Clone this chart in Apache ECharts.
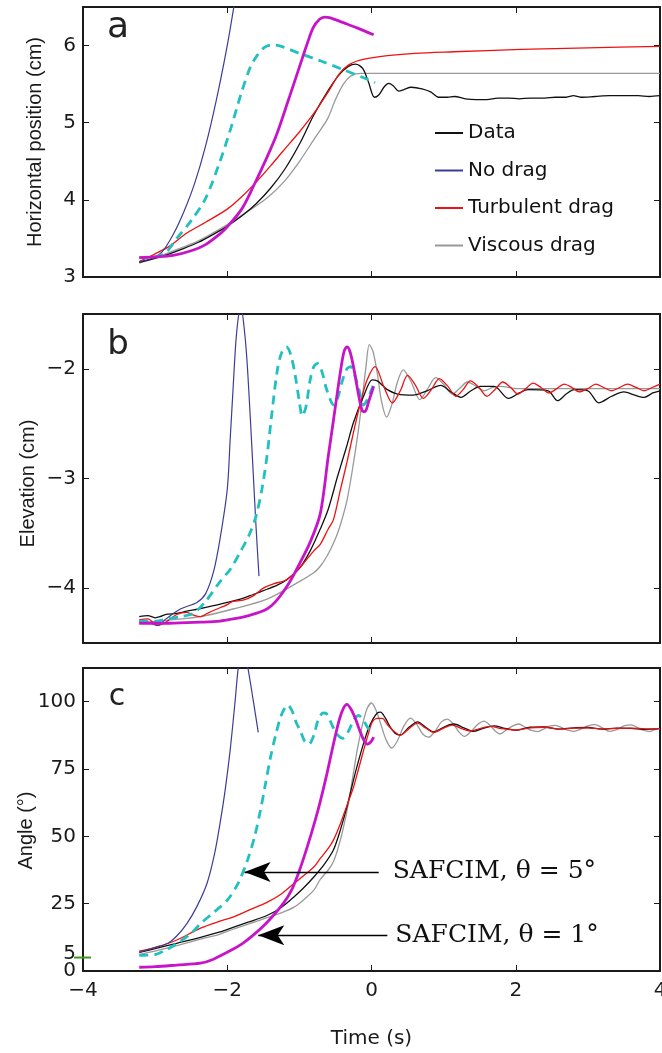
<!DOCTYPE html>
<html>
<head>
<meta charset="utf-8">
<script src="https://cdn.jsdelivr.net/npm/echarts@6/dist/echarts.min.js"></script>
<style>
html,body{margin:0;padding:0;background:#fff;}
#chart{width:662px;height:1053px;}
</style>
</head>
<body>
<div id="chart"></div>
<script>
// ---------- tick labels / axis settings ----------
const xTicks = [-4, -2, 0, 2, 4];
const yTicksA = [3, 4, 5, 6];
const yTicksB = [-4, -3, -2];
const yLabelsC = [0, 25, 50, 75, 100];
const yTickMarksC = [25, 50, 75, 100];
const markerAngle = [5];   // extra labelled reference value on the angle axis
const legendNames = ['Data', 'No drag', 'Turbulent drag', 'Viscous drag'];

// ---------- Panel a: horizontal position (cm) ----------
const aData = [[-3.22,3.19],[-3.0,3.24],[-2.8,3.30],[-2.6,3.37],[-2.4,3.45],[-2.2,3.55],[-2.0,3.66],[-1.8,3.79],[-1.6,3.95],[-1.4,4.15],[-1.2,4.40],[-1.0,4.72],[-0.8,5.10],[-0.6,5.42],[-0.45,5.62],[-0.32,5.73],[-0.22,5.76],[-0.12,5.70],[-0.04,5.52],[0.04,5.33],[0.1,5.36],[0.18,5.47],[0.24,5.51],[0.3,5.48],[0.38,5.41],[0.45,5.43],[0.55,5.46],[0.7,5.44],[0.82,5.40],[0.93,5.33],[1.05,5.33],[1.15,5.34],[1.3,5.31],[1.45,5.30],[1.6,5.30],[1.75,5.32],[1.9,5.32],[2.05,5.31],[2.2,5.32],[2.4,5.32],[2.55,5.33],[2.7,5.33],[2.8,5.35],[2.9,5.33],[3.1,5.34],[3.3,5.35],[3.5,5.35],[3.7,5.35],[3.85,5.34],[4.0,5.35]];
const aNoDrag = [[-3.22,3.20],[-3.05,3.24],[-2.9,3.33],[-2.75,3.55],[-2.6,3.85],[-2.45,4.22],[-2.3,4.70],[-2.15,5.30],[-2.0,6.0],[-1.9,6.55],[-1.85,6.85]];
const aTurb = [[-3.22,3.20],[-3.0,3.30],[-2.8,3.40],[-2.56,3.57],[-2.3,3.71],[-2.0,3.88],[-1.8,4.04],[-1.58,4.25],[-1.4,4.44],[-1.22,4.64],[-1.0,4.88],[-0.8,5.12],[-0.6,5.40],[-0.45,5.63],[-0.33,5.74],[-0.2,5.80],[0.0,5.84],[0.22,5.87],[0.6,5.90],[1.14,5.92],[2.07,5.95],[3.0,5.97],[4.0,5.99]];
const aVisc = [[-3.22,3.18],[-3.0,3.25],[-2.8,3.32],[-2.4,3.47],[-2.0,3.68],[-1.7,3.86],[-1.44,4.03],[-1.2,4.25],[-0.99,4.51],[-0.8,4.78],[-0.61,5.05],[-0.5,5.30],[-0.39,5.50],[-0.28,5.61],[-0.15,5.64],[0.0,5.64],[4.0,5.64]];
const aSaf5 = [[-3.22,3.25],[-3.0,3.26],[-2.85,3.32],[-2.7,3.50],[-2.5,3.73],[-2.3,4.02],[-2.1,4.50],[-1.95,4.93],[-1.8,5.40],[-1.68,5.72],[-1.58,5.88],[-1.48,5.98],[-1.38,6.01],[-1.25,5.99],[-1.0,5.90],[-0.7,5.80],[-0.4,5.69],[-0.1,5.58],[0.05,5.52]];
const aSaf1 = [[-3.22,3.25],[-3.0,3.26],[-2.75,3.28],[-2.5,3.34],[-2.3,3.42],[-2.1,3.56],[-2.0,3.65],[-1.8,3.88],[-1.64,4.17],[-1.45,4.55],[-1.31,4.86],[-1.15,5.30],[-1.0,5.72],[-0.9,6.0],[-0.81,6.23],[-0.72,6.34],[-0.65,6.37],[-0.57,6.36],[-0.4,6.30],[-0.2,6.23],[0.03,6.14]];

// ---------- Panel b: elevation (cm) ----------
const bData = [[-3.22,-4.26],[-3.1,-4.25],[-3.0,-4.27],[-2.93,-4.26],[-2.85,-4.24],[-2.7,-4.23],[-2.56,-4.21],[-2.4,-4.19],[-2.19,-4.16],[-2.0,-4.13],[-1.82,-4.10],[-1.65,-4.06],[-1.45,-4.01],[-1.3,-3.97],[-1.17,-3.92],[-1.0,-3.82],[-0.85,-3.66],[-0.71,-3.46],[-0.6,-3.28],[-0.47,-2.98],[-0.35,-2.72],[-0.25,-2.49],[-0.11,-2.25],[0.01,-2.10],[0.08,-2.11],[0.15,-2.15],[0.22,-2.19],[0.36,-2.23],[0.58,-2.24],[0.77,-2.20],[0.96,-2.15],[1.1,-2.21],[1.24,-2.26],[1.38,-2.20],[1.51,-2.16],[1.7,-2.16],[1.9,-2.27],[2.05,-2.22],[2.17,-2.19],[2.45,-2.20],[2.58,-2.29],[2.7,-2.23],[2.81,-2.19],[3.0,-2.20],[3.15,-2.31],[3.33,-2.25],[3.5,-2.21],[3.65,-2.24],[3.78,-2.26],[3.9,-2.22],[4.0,-2.20]];
const bNoDrag = [[-3.22,-4.30],[-3.1,-4.31],[-2.97,-4.34],[-2.85,-4.28],[-2.65,-4.19],[-2.42,-4.13],[-2.3,-4.05],[-2.19,-3.85],[-2.1,-3.55],[-2.0,-3.10],[-1.96,-2.65],[-1.92,-2.19],[-1.88,-1.75],[-1.84,-1.50],[-1.81,-1.44],[-1.77,-1.60],[-1.73,-1.89],[-1.68,-2.45],[-1.64,-2.95],[-1.6,-3.45],[-1.56,-3.89]];
const bTurb = [[-3.22,-4.29],[-3.1,-4.28],[-2.97,-4.34],[-2.85,-4.31],[-2.7,-4.24],[-2.56,-4.22],[-2.45,-4.25],[-2.37,-4.26],[-2.25,-4.22],[-2.14,-4.19],[-2.0,-4.15],[-1.92,-4.12],[-1.78,-4.11],[-1.64,-4.07],[-1.5,-4.0],[-1.36,-3.96],[-1.2,-3.93],[-1.08,-3.87],[-0.95,-3.78],[-0.8,-3.66],[-0.71,-3.60],[-0.6,-3.46],[-0.53,-3.38],[-0.43,-3.10],[-0.34,-2.85],[-0.25,-2.58],[-0.15,-2.30],[-0.06,-2.10],[0.05,-1.98],[0.17,-2.16],[0.29,-2.31],[0.4,-2.20],[0.5,-2.06],[0.61,-2.15],[0.72,-2.27],[0.83,-2.19],[0.94,-2.09],[1.06,-2.16],[1.17,-2.25],[1.27,-2.19],[1.37,-2.11],[1.49,-2.17],[1.6,-2.25],[1.71,-2.19],[1.82,-2.12],[1.93,-2.17],[2.03,-2.23],[2.14,-2.18],[2.24,-2.13],[2.35,-2.17],[2.46,-2.22],[2.57,-2.18],[2.67,-2.14],[2.78,-2.17],[2.88,-2.21],[3.0,-2.18],[3.11,-2.14],[3.22,-2.17],[3.33,-2.20],[3.44,-2.17],[3.55,-2.14],[3.67,-2.17],[3.78,-2.20],[3.89,-2.17],[4.0,-2.14]];
const bVisc = [[-3.22,-4.32],[-2.8,-4.29],[-2.37,-4.26],[-1.92,-4.19],[-1.45,-4.10],[-1.0,-3.94],[-0.8,-3.86],[-0.71,-3.80],[-0.61,-3.70],[-0.5,-3.55],[-0.43,-3.42],[-0.34,-3.20],[-0.25,-2.86],[-0.18,-2.55],[-0.13,-2.28],[-0.08,-2.0],[-0.03,-1.78],[0.02,-1.84],[0.08,-2.04],[0.14,-2.30],[0.21,-2.44],[0.28,-2.33],[0.36,-2.12],[0.44,-2.01],[0.55,-2.12],[0.67,-2.28],[0.78,-2.18],[0.89,-2.08],[1.0,-2.14],[1.12,-2.23],[1.22,-2.18],[1.33,-2.12],[1.45,-2.16],[1.56,-2.20],[1.68,-2.17],[1.79,-2.16],[2.0,-2.18],[2.5,-2.18],[3.0,-2.18],[4.0,-2.18]];
const bSaf5 = [[-3.22,-4.30],[-3.0,-4.30],[-2.83,-4.28],[-2.65,-4.26],[-2.47,-4.23],[-2.3,-4.12],[-2.1,-3.94],[-1.95,-3.82],[-1.82,-3.67],[-1.7,-3.52],[-1.6,-3.34],[-1.52,-3.10],[-1.45,-2.80],[-1.38,-2.40],[-1.31,-2.03],[-1.25,-1.86],[-1.18,-1.80],[-1.12,-1.87],[-1.06,-2.05],[-1.0,-2.30],[-0.96,-2.43],[-0.91,-2.35],[-0.85,-2.10],[-0.8,-1.98],[-0.75,-1.95],[-0.69,-2.02],[-0.63,-2.17],[-0.56,-2.30],[-0.52,-2.33],[-0.47,-2.27],[-0.4,-2.10],[-0.34,-2.00],[-0.29,-1.98],[-0.23,-2.06],[-0.17,-2.20],[-0.11,-2.33],[-0.05,-2.27],[0.03,-2.14]];
const bSaf1 = [[-3.22,-4.32],[-2.8,-4.32],[-2.37,-4.31],[-2.1,-4.30],[-1.92,-4.28],[-1.7,-4.25],[-1.45,-4.19],[-1.3,-4.10],[-1.13,-3.94],[-1.0,-3.78],[-0.85,-3.58],[-0.71,-3.32],[-0.6,-2.80],[-0.53,-2.48],[-0.47,-2.20],[-0.42,-1.98],[-0.38,-1.84],[-0.34,-1.80],[-0.3,-1.84],[-0.25,-1.98],[-0.19,-2.20],[-0.13,-2.38],[-0.09,-2.39],[-0.04,-2.30],[0.03,-2.16]];

// ---------- Panel c: angle (deg) ----------
const cData = [[-3.22,6.9],[-3.0,8.3],[-2.7,10.3],[-2.37,12.5],[-2.1,14.5],[-1.92,16.2],[-1.7,18.2],[-1.45,20.6],[-1.25,23.6],[-1.08,27.4],[-0.95,30.6],[-0.8,34.9],[-0.65,39.8],[-0.53,44.8],[-0.43,52.5],[-0.34,61],[-0.25,70.9],[-0.18,78],[-0.11,84.5],[-0.05,89.5],[0.02,93.5],[0.08,95.8],[0.125,96.1],[0.19,94],[0.26,90.6],[0.33,88.2],[0.4,87.6],[0.52,90.5],[0.64,92.5],[0.75,90.5],[0.86,88.8],[1.0,90.5],[1.14,91.7],[1.28,90.3],[1.42,89],[1.56,90.2],[1.7,91],[1.85,90.1],[2.0,89.4],[2.2,90.5],[2.4,90.6],[2.6,89.8],[2.8,90.3],[3.0,90.4],[3.2,89.8],[3.4,90.2],[3.6,90.1],[3.8,89.7],[4.0,90.1]];
const cNoDrag = [[-3.22,6.9],[-3.0,8.8],[-2.83,10.2],[-2.7,13.0],[-2.56,17.6],[-2.42,24],[-2.28,32.6],[-2.18,43],[-2.1,54.8],[-2.03,67],[-1.96,81.9],[-1.89,100.5],[-1.85,112],[-1.81,118],[-1.77,118],[-1.73,114],[-1.71,112],[-1.64,100.5],[-1.57,88.6]];
const cTurb = [[-3.22,7.4],[-3.0,8.7],[-2.7,11.5],[-2.37,15.9],[-2.1,18.5],[-1.92,20],[-1.7,22.6],[-1.45,25.5],[-1.25,28.6],[-1.08,32.4],[-0.95,35.2],[-0.8,38.6],[-0.71,41.8],[-0.6,45.5],[-0.53,48.5],[-0.43,54.8],[-0.34,61.5],[-0.25,68.2],[-0.18,75],[-0.11,81.9],[-0.05,87.5],[0.01,92.4],[0.08,93.8],[0.15,93.8],[0.22,91.5],[0.29,89.5],[0.4,87.6],[0.52,90],[0.64,92],[0.75,90.2],[0.86,88.6],[1.0,90.2],[1.12,91.3],[1.25,90],[1.37,89.1],[1.5,90],[1.65,90.8],[1.8,90],[2.0,89.5],[2.2,90.3],[2.4,90.5],[2.6,89.8],[2.8,90.2],[3.0,90.3],[3.2,89.9],[3.4,90.1],[3.6,90.2],[3.8,89.9],[4.0,90.0]];
const cVisc = [[-3.22,6.2],[-3.0,7.4],[-2.7,9.4],[-2.37,11.8],[-2.1,13.7],[-1.92,15.5],[-1.7,17.5],[-1.45,19.8],[-1.25,21.6],[-1.08,23.6],[-0.95,26.2],[-0.8,30],[-0.71,34],[-0.6,37.5],[-0.53,40.5],[-0.47,45],[-0.4,52],[-0.33,60.8],[-0.26,72],[-0.19,83.2],[-0.12,92],[-0.06,97.5],[0.0,99.5],[0.06,97],[0.125,92],[0.2,86],[0.28,82.8],[0.36,85.5],[0.45,91],[0.54,93.9],[0.63,91.5],[0.71,88],[0.79,86.8],[0.88,89],[0.97,92.5],[1.05,93.5],[1.14,91.5],[1.22,88.5],[1.29,87.1],[1.38,89],[1.47,91.5],[1.56,92.8],[1.65,91],[1.72,89],[1.78,88],[1.87,89.5],[1.96,91],[2.04,91.7],[2.13,90.5],[2.22,89.3],[2.3,88.9],[2.4,90],[2.48,91],[2.55,91.2],[2.65,90.2],[2.72,89.4],[2.8,89],[2.92,90],[3.0,91],[3.1,91.5],[3.2,90.3],[3.3,89],[3.4,89.6],[3.5,91],[3.6,91.4],[3.7,90.2],[3.78,89.3],[3.85,88.9],[3.92,89.5],[4.0,90]];
const cSaf5 = [[-3.22,5.8],[-3.0,6.1],[-2.85,7.8],[-2.69,10.3],[-2.5,14.0],[-2.37,17.6],[-2.2,21.5],[-2.0,26.3],[-1.85,32.5],[-1.72,41.1],[-1.62,50],[-1.54,59.6],[-1.47,69.5],[-1.40,79.4],[-1.33,87.5],[-1.26,94.3],[-1.2,97.8],[-1.16,98.7],[-1.1,96.5],[-1.04,92],[-0.99,89.4],[-0.93,85.5],[-0.87,84.2],[-0.8,87.5],[-0.74,93.2],[-0.67,95.8],[-0.62,95.5],[-0.55,91.5],[-0.48,88],[-0.4,86.4],[-0.32,89],[-0.25,93],[-0.18,94.9],[-0.11,93],[-0.04,90],[0.03,89.4]];
const cSaf1 = [[-3.22,1.4],[-3.0,1.6],[-2.7,2.2],[-2.37,2.9],[-2.2,4.3],[-2.0,7.0],[-1.8,10.0],[-1.64,13.3],[-1.45,18.0],[-1.22,25.2],[-1.1,30.5],[-0.99,38],[-0.88,47],[-0.78,56],[-0.71,63],[-0.62,73],[-0.53,84],[-0.45,93],[-0.39,97.5],[-0.34,99],[-0.28,97],[-0.22,93.5],[-0.18,90.5],[-0.12,86.5],[-0.06,84.2],[-0.01,85],[0.03,86.8]];

// ---------- annotations (panel c) ----------
const arrowLabels = ['SAFCIM, \u03b8 = 5\u00b0', 'SAFCIM, \u03b8 = 1\u00b0'];
const arrowY = [36.8, 13.3];
const arrowFromX = [0.10, 0.22];
const arrowToX = [-1.76, -1.57];

// ---------- styling ----------
const COL = {data:'#111111', nodrag:'#3c3c98', turb:'#ee1111', visc:'#999999', saf5:'#22c0c0', saf1:'#c814c8'};
const FRAME = '#1a1a1a';
const SANS = 'DejaVu Sans';
const minus = v => String(v).replace('-', '\u2212');

const grids = [
  {left:83, right:2, top:7, height:270, outerBoundsMode:'none', containLabel:false},
  {left:83, right:2, top:314, height:329, outerBoundsMode:'none', containLabel:false},
  {left:83, right:2, top:668, height:303, outerBoundsMode:'none', containLabel:false}
];

function xAxisPair(gi, showLabels) {
  const base = {
    type:'value', gridIndex:gi, min:-4, max:4,
    splitLine:{show:false},
    axisLine:{show:true, onZero:false, lineStyle:{color:FRAME, width:2}},
    axisTick:{show:true, inside:true, length:6, lineStyle:{color:FRAME, width:1}, customValues:xTicks}
  };
  return [
    Object.assign({}, base, {
      position:'bottom',
      axisLabel:{show:showLabels, customValues:xTicks, formatter:minus, margin:10, showMinLabel:true, showMaxLabel:true,
                 fontFamily:SANS, fontSize:20, color:'#1a1a1a'},
      name: showLabels ? 'Time (s)' : '',
      nameLocation:'middle', nameGap:58, nameMoveOverlap:false,
      nameTextStyle:{fontFamily:SANS, fontSize:20, color:'#1a1a1a'}
    }),
    Object.assign({}, base, {position:'top', axisLabel:{show:false}})
  ];
}
function yAxisPair(gi, min, max, labels, ticks, name, gap, namePad) {
  const base = {
    type:'value', gridIndex:gi, min:min, max:max,
    splitLine:{show:false},
    axisLine:{show:true, onZero:false, lineStyle:{color:FRAME, width:2}},
    axisTick:{show:true, inside:true, length:6, lineStyle:{color:FRAME, width:1}, customValues:ticks}
  };
  return [
    Object.assign({}, base, {
      position:'left',
      axisLabel:{show:true, customValues:labels, formatter:minus, margin:7, showMinLabel:true, showMaxLabel:true,
                 fontFamily:SANS, fontSize:20, color:'#1a1a1a', hideOverlap:false},
      name:name, nameLocation:'middle', nameRotate:90, nameGap:gap, nameMoveOverlap:false,
      nameTextStyle:{fontFamily:'Liberation Sans', fontSize:20, color:'#1a1a1a', padding:namePad}
    }),
    Object.assign({}, base, {position:'right', axisLabel:{show:false}})
  ];
}

function lineSeries(name, data, gi, color, width, dashed, extra) {
  return Object.assign({
    type:'line', name:name, data:data,
    xAxisIndex:gi*2, yAxisIndex:gi*2,
    showSymbol:false, symbol:'none', smooth:0.3,
    color:color,
    lineStyle:{color:color, width:width, type: dashed ? [9,6] : 'solid'},
    clip:true, silent:true, animation:false, z: dashed || width > 2 ? 3 : 2
  }, extra || {});
}

const arrowMarkLine = {
  silent:true, animation:false,
  symbol:['none','arrow'], symbolSize:[15,26],
  lineStyle:{color:'#000', width:1.3, type:'solid'},
  data: arrowLabels.map((lab, i) => [
    {coord:[arrowFromX[i], arrowY[i]],
     label:{show:true, position:'start', formatter:lab, distance: i === 0 ? 14 : 8,
            fontFamily:'DejaVu Serif', fontSize:25, color:'#111'}},
    {coord:[arrowToX[i], arrowY[i]]}
  ])
};

const series = [
  // panel a
  lineSeries('Viscous drag', aVisc, 0, COL.visc, 1.3),
  lineSeries('Data', aData, 0, COL.data, 1.3),
  lineSeries('Turbulent drag', aTurb, 0, COL.turb, 1.3),
  lineSeries('No drag', aNoDrag, 0, COL.nodrag, 1.2),
  lineSeries('SAFCIM 5', aSaf5, 0, COL.saf5, 2.8, true),
  lineSeries('SAFCIM 1', aSaf1, 0, COL.saf1, 2.8),
  // panel b
  lineSeries('Viscous drag', bVisc, 1, COL.visc, 1.3),
  lineSeries('Data', bData, 1, COL.data, 1.3),
  lineSeries('Turbulent drag', bTurb, 1, COL.turb, 1.3),
  lineSeries('No drag', bNoDrag, 1, COL.nodrag, 1.2),
  lineSeries('SAFCIM 5', bSaf5, 1, COL.saf5, 2.8, true),
  lineSeries('SAFCIM 1', bSaf1, 1, COL.saf1, 2.8),
  // panel c
  lineSeries('Viscous drag', cVisc, 2, COL.visc, 1.3),
  lineSeries('Data', cData, 2, COL.data, 1.3, false, {markLine: arrowMarkLine}),
  lineSeries('Turbulent drag', cTurb, 2, COL.turb, 1.3),
  lineSeries('No drag', cNoDrag, 2, COL.nodrag, 1.2),
  lineSeries('SAFCIM 5', cSaf5, 2, COL.saf5, 2.8, true),
  lineSeries('SAFCIM 1', cSaf1, 2, COL.saf1, 2.8)
];

const chart = echarts.init(document.getElementById('chart'), null, {renderer:'canvas'});
chart.setOption({
  animation:false,
  backgroundColor:'#ffffff',
  grid: grids,
  xAxis: [].concat(xAxisPair(0,false), xAxisPair(1,false), xAxisPair(2,true)),
  yAxis: [].concat(
    yAxisPair(0, 3, 6.5, yTicksA, yTicksA, 'Horizontal position (cm)', 38, [0,0,0,0]),
    yAxisPair(1, -4.5, -1.5, yTicksB, yTicksB, 'Elevation (cm)', 45, [0,10,0,0]),
    yAxisPair(2, 0, 112.5, yLabelsC, yTickMarksC, 'Angle (\u00b0)', 47, [0,22,0,0])
  ),
  legend: {
    data: legendNames, orient:'vertical', left:435, top:123, padding:0,
    itemWidth:28, itemHeight:2, itemGap:17.5, icon:'rect', selectedMode:false,
    textStyle:{fontFamily:SANS, fontSize:20, color:'#111', lineHeight:20}
  },
  series: series
});

// decorations: panel letters, the green reference mark at 5 degrees and its label
const p5 = chart.convertToPixel({xAxisIndex:4, yAxisIndex:4}, [-4, markerAngle[0]]);
chart.setOption({
  graphic: [
    {type:'text', x:118, y:28, style:{text:'a', font:'36px "DejaVu Sans"', fill:'#222', textAlign:'center', textVerticalAlign:'middle'}},
    {type:'text', x:118, y:345, style:{text:'b', font:'34px "DejaVu Sans"', fill:'#222', textAlign:'center', textVerticalAlign:'middle'}},
    {type:'text', x:117, y:697, style:{text:'c', font:'30px "DejaVu Sans"', fill:'#222', textAlign:'center', textVerticalAlign:'middle'}},
    {type:'text', x:p5[0]-7, y:p5[1]-4, style:{text:String(markerAngle[0]), font:'20px "DejaVu Sans"', fill:'#1a1a1a', textAlign:'right', textVerticalAlign:'middle'}, z:100},
    {type:'line', shape:{x1:p5[0]-9, y1:p5[1], x2:p5[0]+8, y2:p5[1]}, style:{stroke:'#3a9a1a', lineWidth:2}, z:101}
  ]
});
</script>
</body>
</html>
